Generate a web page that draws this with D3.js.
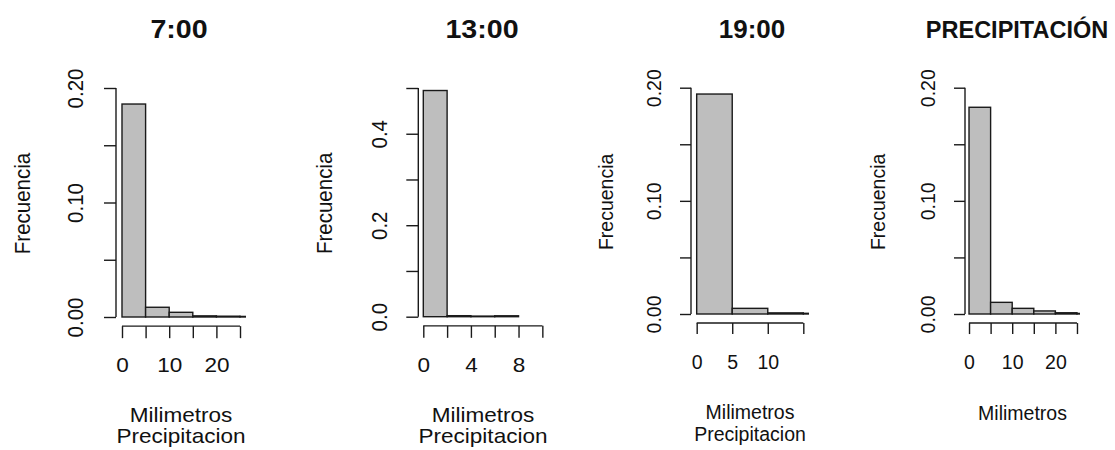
<!DOCTYPE html>
<html>
<head>
<meta charset="utf-8">
<script src="https://cdn.jsdelivr.net/npm/d3@7"></script>
<style>
  html, body { margin: 0; padding: 0; background: #fff; }
  text { font-family: "Liberation Sans", Arial, sans-serif; fill: #111; }
</style>
</head>
<body>
<svg id="chart" width="1115" height="450"></svg>
<script>
// ---------- data ----------
const titles = ["7:00", "13:00", "19:00", "PRECIPITACIÓN"];
const xLabelLines = [
  ["Milimetros", "Precipitacion"],
  ["Milimetros", "Precipitacion"],
  ["Milimetros", "Precipitacion"],
  ["Milimetros"]
];
const yLabel = "Frecuencia";

// histogram break points (mm) and densities
const breaks7 = [0, 5, 10, 15, 20, 25, 30];
const density7 = [0.186, 0.0085, 0.0041, 0.001, 0.0007, 0.0005];

const breaks13 = [0, 2, 4, 6, 8, 10, 12];
const density13 = [0.4945, 0.0022, 0.0013, 0.002, 0, 0];

const breaks19 = [0, 5, 10, 15, 20];
const density19 = [0.1944, 0.005, 0.001, 0.0006];

const breaksP = [0, 5, 10, 15, 20, 25, 30];
const densityP = [0.1827, 0.0103, 0.005, 0.0027, 0.0011, 0.0005];

// axis ticks and the labels shown
const xTicks7 = [0, 5, 10, 15, 20, 25];
const xLabels7 = [0, 10, 20];
const xTicks13 = [0, 2, 4, 6, 8, 10];
const xLabels13 = [0, 4, 8];
const xTicks19 = [0, 5, 10, 15];
const xLabels19 = [0, 5, 10];
const xTicksP = [0, 5, 10, 15, 20, 25];
const xLabelsP = [0, 10, 20];

const yTicks7 = [0, 0.05, 0.10, 0.15, 0.20];
const yLabels7 = [0, 0.10, 0.20];
const yTicks13 = [0, 0.1, 0.2, 0.3, 0.4, 0.5];
const yLabels13 = [0, 0.2, 0.4];
const yTicks19 = [0, 0.05, 0.10, 0.15, 0.20];
const yLabels19 = [0, 0.10, 0.20];
const yTicksP = [0, 0.05, 0.10, 0.15, 0.20];
const yLabelsP = [0, 0.10, 0.20];

const yFormats = [".2f", ".1f", ".2f", ".2f"];

// ---------- layout (pixels / plot window) ----------
const layout = [
  { plotL: 116,   plotR: 246,   xDom: [-1.27, 26.27], yBase: 317,   yTop: 88,   ymax: 0.2, font: 20.5, sx: 1.1, tick: 12, yTickLab: -33,  yLab: -86,   titleFont: 26,   titleDx: -2 },
  { plotL: 418.3, plotR: 547.7, xDom: [-0.42, 10.45], yBase: 316.7, yTop: 88,   ymax: 0.5, font: 20.5, sx: 1.1, tick: 12, yTickLab: -31.6, yLab: -86.6, titleFont: 26,   titleDx: -1 },
  { plotL: 691,   plotR: 809,   xDom: [-0.8, 15.8],   yBase: 314,   yTop: 87.7, ymax: 0.2, font: 19.5, sx: 1.0, tick: 11, yTickLab: -30,  yLab: -78,   titleFont: 26,   titleDx: 2 },
  { plotL: 965,   plotR: 1080,  xDom: [-0.93, 25.7],  yBase: 314,   yTop: 87.7, ymax: 0.2, font: 19.5, sx: 1.0, tick: 11, yTickLab: -30,  yLab: -80,   titleFont: 23.5, titleDx: -5.5 }
];
const xLabBase = [[421.5, 443], [421.5, 443], [418.5, 441], [419.5]];

const panels = [
  { breaks: breaks7,  dens: density7,  xt: xTicks7,  xl: xLabels7,  yt: yTicks7,  yl: yLabels7 },
  { breaks: breaks13, dens: density13, xt: xTicks13, xl: xLabels13, yt: yTicks13, yl: yLabels13 },
  { breaks: breaks19, dens: density19, xt: xTicks19, xl: xLabels19, yt: yTicks19, yl: yLabels19 },
  { breaks: breaksP,  dens: densityP,  xt: xTicksP,  xl: xLabelsP,  yt: yTicksP,  yl: yLabelsP }
];

const svg = d3.select("#chart");
const lineColor = "#1a1a1a";

panels.forEach((p, i) => {
  const L = layout[i];
  const x = d3.scaleLinear().domain(L.xDom).range([L.plotL, L.plotR]);
  const y = d3.scaleLinear().domain([0, L.ymax]).range([L.yBase, L.yTop]);
  const yAxisPos = L.plotL;
  const xAxisPos = y(-0.04 * L.ymax);
  const plotTop = y(1.04 * L.ymax);
  const g = svg.append("g");

  // clip to plot region
  const clipId = "clip" + i;
  svg.append("clipPath").attr("id", clipId)
    .append("rect")
    .attr("x", L.plotL).attr("y", plotTop)
    .attr("width", L.plotR - L.plotL).attr("height", xAxisPos - plotTop);

  // bars
  const bins = p.dens.map((d, k) => ({ x0: p.breaks[k], x1: p.breaks[k + 1], d }));
  g.append("g").attr("clip-path", `url(#${clipId})`)
    .selectAll("rect").data(bins).join("rect")
    .attr("x", b => x(b.x0))
    .attr("width", b => x(b.x1) - x(b.x0))
    .attr("y", b => y(b.d))
    .attr("height", b => y(0) - y(b.d))
    .attr("fill", "#bebebe")
    .attr("stroke", lineColor)
    .attr("stroke-width", 1.4);

  // x axis
  const xa = g.append("g").attr("transform", `translate(0,${xAxisPos})`)
    .call(d3.axisBottom(x).tickValues(p.xt).tickSize(L.tick).tickSizeOuter(0)
      .tickFormat(v => p.xl.includes(v) ? d3.format("d")(v) : ""));
  xa.select(".domain").remove();
  xa.append("line")
    .attr("x1", x(p.xt[0])).attr("x2", x(p.xt[p.xt.length - 1]))
    .attr("stroke", lineColor).attr("stroke-width", 1.4);
  xa.selectAll(".tick line").attr("stroke", lineColor).attr("stroke-width", 1.4);
  xa.selectAll(".tick text")
    .attr("y", null).attr("dy", null)
    .attr("transform", `translate(0,46) scale(${L.sx},1)`)
    .attr("text-anchor", "middle")
    .style("font-size", L.font + "px")
    .style("font-family", "Liberation Sans, Arial, sans-serif")
    .attr("fill", "#111");

  // y axis
  const fmt = d3.format(yFormats[i]);
  const ya = g.append("g").attr("transform", `translate(${yAxisPos},0)`)
    .call(d3.axisLeft(y).tickValues(p.yt).tickSize(L.tick).tickSizeOuter(0)
      .tickFormat(v => p.yl.some(l => Math.abs(l - v) < 1e-9) ? fmt(v) : ""));
  ya.select(".domain").remove();
  ya.append("line")
    .attr("y1", y(p.yt[0])).attr("y2", y(p.yt[p.yt.length - 1]))
    .attr("stroke", lineColor).attr("stroke-width", 1.4);
  ya.selectAll(".tick line").attr("stroke", lineColor).attr("stroke-width", 1.4);
  ya.selectAll(".tick text")
    .attr("x", null).attr("dy", null)
    .attr("transform", `translate(${L.yTickLab},0) scale(${L.sx},1) rotate(-90)`)
    .attr("text-anchor", "middle")
    .style("font-size", L.font + "px")
    .style("font-family", "Liberation Sans, Arial, sans-serif")
    .attr("fill", "#111");

  // y label
  g.append("text")
    .attr("transform", `translate(${yAxisPos + L.yLab},${(y(0) + y(L.ymax)) / 2 + 1}) scale(${L.sx},1) rotate(-90)`)
    .attr("text-anchor", "middle")
    .style("font-size", L.font + "px")
    .text(yLabel);

  // x label lines
  const cx = (L.plotL + L.plotR) / 2;
  xLabelLines[i].forEach((t, k) => {
    g.append("text")
      .attr("transform", `translate(${cx},${xLabBase[i][k]}) scale(${L.sx},1)`)
      .attr("text-anchor", "middle")
      .style("font-size", L.font + "px")
      .text(t);
  });

  // title
  g.append("text")
    .attr("transform", `translate(${cx + L.titleDx},38) scale(${L.sx},1)`)
    .attr("text-anchor", "middle")
    .style("font-size", L.titleFont + "px")
    .style("font-weight", "bold")
    .text(titles[i]);
});
</script>
</body>
</html>
